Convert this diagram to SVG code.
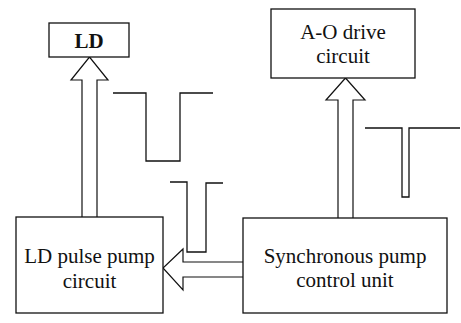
<svg xmlns="http://www.w3.org/2000/svg" width="461" height="323" viewBox="0 0 461 323">
<style>
.box{fill:#fff;stroke:#111;stroke-width:1.3}
.arr{fill:#fff;stroke:#111;stroke-width:1.2;stroke-linejoin:miter}
.pulse{fill:none;stroke:#111;stroke-width:1.3}
text{font-family:"Liberation Serif","Times New Roman",serif;font-size:21px;fill:#111;text-anchor:middle}
</style>
<rect width="461" height="323" fill="#fff"/>
<g id="connectors">
<path class="arr" d="M82,217 V80 H71 L89.5,57 L108,80 H97 V217"/>
<path class="arr" d="M338,218 V100 H326 L345.5,78 L365,100 H353 V218"/>
<path class="arr" d="M243,262 H183 V249 L163,268 L183,290 V277 H243"/>
</g>
<g id="pulses">
<path class="pulse" d="M113,93 H146 V161 H180 V93 H213"/>
<path class="pulse" d="M170,182 H187 V252 H206 V183 H223"/>
<path class="pulse" d="M365,128 H402 V197 H409 V128 H460"/>
</g>
<g id="ld">
<rect class="box" x="49" y="23" width="80" height="34"/>
<text x="89" y="48" font-weight="bold">LD</text>
</g>
<g id="ao">
<rect class="box" x="271" y="9" width="144" height="69"/>
<text x="343" y="39">A-O drive</text>
<text x="343" y="63">circuit</text>
</g>
<g id="ldpulse">
<rect class="box" x="16" y="217" width="147" height="96"/>
<text x="89.5" y="263">LD pulse pump</text>
<text x="89.5" y="288">circuit</text>
</g>
<g id="sync">
<rect class="box" x="243" y="218" width="204" height="95"/>
<text x="345" y="263">Synchronous pump</text>
<text x="345" y="287">control unit</text>
</g>
</svg>
